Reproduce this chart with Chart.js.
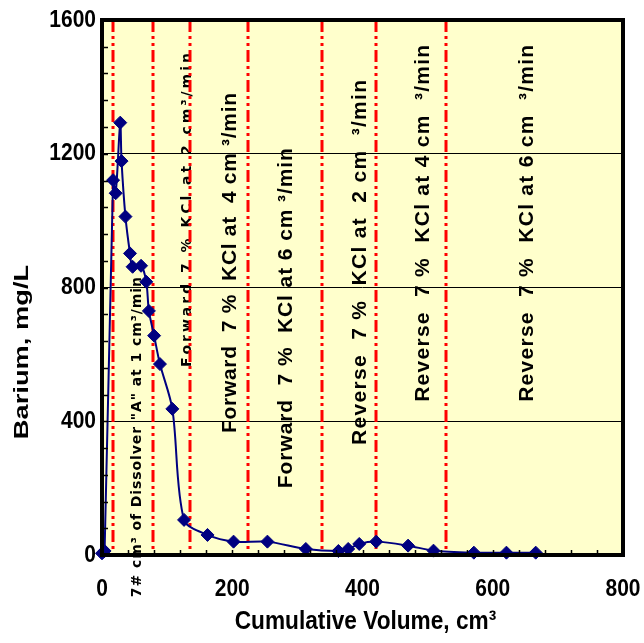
<!DOCTYPE html>
<html>
<head>
<meta charset="utf-8">
<script src="https://cdn.jsdelivr.net/npm/chart.js@4.4.1/dist/chart.umd.min.js"></script>
<style>
  html, body { margin: 0; padding: 0; background: #fff; }
</style>
</head>
<body>
<canvas id="chart" width="644" height="643"></canvas>
<script>
// --- data ---
const volume = [0, 4, 17, 21, 28, 30, 36, 43, 47, 60, 68, 72, 80, 89, 108, 126, 162, 202, 254, 313, 363, 378, 395, 421, 470, 509, 571, 621, 666];
const barium = [5, 12, 1121, 1082, 1293, 1178, 1012, 902, 862, 865, 817, 730, 656, 571, 437, 105, 60, 40, 40, 18, 12, 18, 33, 40, 28, 13, 7, 7, 7];

// stage boundaries (cumulative volume, cm3)
const stageBounds = [17, 78, 135, 224, 338, 421, 528];

// stage captions and where each one starts (x = volume, y = barium)
const stageText = [
  '7# cm\u00B3 of Dissolver "A" at 1 cm\u00B3/min',
  'Forward 7 % KCl at 2 cm\u00B3/min',
  'Forward  7 %  KCl at  4 cm \u00B3/min',
  'Forward  7 %  KCl at 6 cm \u00B3/min',
  'Reverse  7 %  KCl at  2 cm  \u00B3/min',
  'Reverse  7 %  KCl at 4 cm  \u00B3/min',
  'Reverse  7 %  KCl at 6 cm  \u00B3/min'
];
const stageTextX = [55, 131, 197, 283, 396, 493, 653];
const stageTextY = [-126, 562, 365, 200, 329, 458, 458];

const xTickValues = [0, 200, 400, 600, 800];
const yTickValues = [0, 400, 800, 1200, 1600];
const xTitle = 'Cumulative Volume, cm\u00B3';
const yTitle = 'Barium, mg/L';

const FONT = "'Liberation Sans', Arial, sans-serif";
// caption styling: font and total drawn length in px
const captionFont = ['bold 14px "DejaVu Sans"', 'bold 14px "DejaVu Sans"',
  'bold 21px ' + FONT, 'bold 21px ' + FONT, 'bold 21px ' + FONT, 'bold 21px ' + FONT, 'bold 21px ' + FONT];
const captionLen = [320, 314, 340, 340, 365, 357, 357];

// rotated -90deg text, spread out to a given length
function drawUpText(ctx, str, x, y, font, len) {
  ctx.save();
  ctx.translate(x, y);
  ctx.rotate(-Math.PI / 2);
  ctx.font = font;
  ctx.textBaseline = 'middle';
  ctx.textAlign = 'left';
  ctx.fillStyle = '#000';
  const chars = [...str];
  const natural = chars.reduce((s, c) => s + ctx.measureText(c).width, 0);
  const gap = (len - natural) / (chars.length - 1);
  let pos = 0;
  for (const ch of chars) {
    ctx.fillText(ch, pos, 0);
    pos += ctx.measureText(ch).width + gap;
  }
  ctx.restore();
}

const stagePlugin = {
  id: 'stages',
  beforeDraw(chart) {
    const { ctx, chartArea: a } = chart;
    ctx.save();
    ctx.fillStyle = '#FFFFCC';
    ctx.fillRect(a.left, a.top, a.right - a.left, a.bottom - a.top);
    ctx.restore();
  },
  beforeDatasetsDraw(chart) {
    const { ctx, chartArea: a, scales: { x, y } } = chart;
    stageText.forEach((t, i) => {
      drawUpText(ctx, t, x.getPixelForValue(stageTextX[i]), y.getPixelForValue(stageTextY[i]),
        captionFont[i], captionLen[i]);
    });
    // dash-dot-dot boundaries
    ctx.save();
    ctx.strokeStyle = '#FF0000';
    ctx.lineWidth = 3;
    ctx.setLineDash([12, 4, 3, 4, 3, 4]);
    stageBounds.forEach(v => {
      const px = Math.round(x.getPixelForValue(v));
      ctx.beginPath();
      ctx.moveTo(px, a.top);
      ctx.lineTo(px, a.bottom);
      ctx.stroke();
    });
    ctx.restore();
  },
  afterDraw(chart) {
    const { ctx, chartArea: a, scales: { x, y } } = chart;
    ctx.save();
    // inward ticks
    ctx.strokeStyle = '#000';
    ctx.lineWidth = 1.5;
    ctx.beginPath();
    for (let v = 0; v <= 1600; v += 80) {
      const py = Math.round(y.getPixelForValue(v)) + 0.5;
      ctx.moveTo(a.left, py); ctx.lineTo(a.left + 6, py);
    }
    for (let v = 0; v <= 800; v += 40) {
      const px = Math.round(x.getPixelForValue(v)) + 0.5;
      ctx.moveTo(px, a.bottom); ctx.lineTo(px, a.bottom - 5);
    }
    ctx.stroke();
    ctx.lineWidth = 4;
    ctx.strokeRect(a.left, a.top, a.right - a.left, a.bottom - a.top);

    // tick labels (the source text is a bit taller than plain Arial)
    ctx.fillStyle = '#000';
    ctx.font = 'bold 21px ' + FONT;
    ctx.textBaseline = 'middle';
    ctx.textAlign = 'right';
    yTickValues.forEach(v => {
      ctx.save();
      ctx.translate(a.left - 6, y.getPixelForValue(v));
      ctx.scale(1, 1.15);
      ctx.fillText(String(v), 0, 0);
      ctx.restore();
    });
    ctx.textAlign = 'center';
    xTickValues.forEach(v => {
      ctx.save();
      ctx.translate(x.getPixelForValue(v), 589);
      ctx.scale(1, 1.15);
      ctx.fillText(String(v), 0, 0);
      ctx.restore();
    });

    // axis titles
    ctx.save();
    ctx.font = 'bold 22px ' + FONT;
    ctx.textBaseline = 'alphabetic';
    ctx.translate((a.left + a.right) / 2 + 3, 629);
    ctx.scale(1.03, 1.15);
    ctx.fillText(xTitle, 0, 0);
    ctx.restore();

    ctx.save();
    ctx.font = 'bold 21px ' + FONT;
    ctx.textBaseline = 'middle';
    ctx.translate(22, 352);
    ctx.rotate(-Math.PI / 2);
    ctx.scale(1.3, 1);
    ctx.fillText(yTitle, 0, 0);
    ctx.restore();
    ctx.restore();
  }
};

new Chart(document.getElementById('chart'), {
  type: 'line',
  data: {
    datasets: [{
      data: volume.map((v, i) => ({ x: v, y: barium[i] })),
      borderColor: '#000080',
      backgroundColor: '#000080',
      borderWidth: 2,
      pointStyle: 'rectRot',
      pointRadius: 6.5,
      pointBorderWidth: 1,
      tension: 0.3,
      clip: false
    }]
  },
  options: {
    responsive: false,
    animation: false,
    layout: { padding: { top: 20, right: 21, left: 0, bottom: 0 } },
    plugins: { legend: { display: false }, tooltip: { enabled: false } },
    scales: {
      x: {
        type: 'linear', min: 0, max: 800,
        afterFit(s) { s.height = 88; s.paddingLeft = 0; s.paddingRight = 0; },
        grid: { display: false, drawTicks: false },
        border: { display: false },
        ticks: { stepSize: 200, display: false }
      },
      y: {
        min: 0, max: 1600,
        afterFit(s) { s.width = 102; s.paddingTop = 0; s.paddingBottom = 0; },
        grid: { color: '#000', lineWidth: 1, drawTicks: false },
        border: { display: false },
        ticks: { stepSize: 400, display: false }
      }
    }
  },
  plugins: [stagePlugin]
});
</script>
</body>
</html>
